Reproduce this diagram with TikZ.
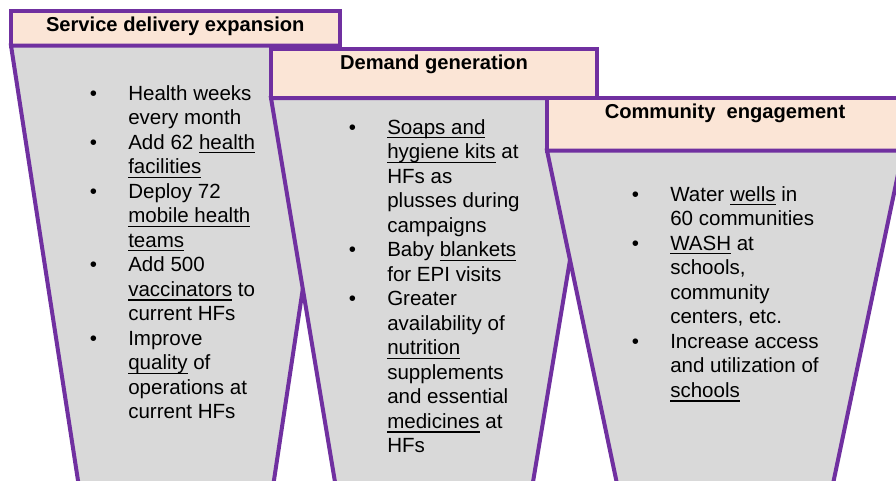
\documentclass[tikz,border=0pt]{standalone}
\usepackage{fontspec}
\setmainfont{Liberation Sans}
\definecolor{fpurple}{HTML}{7030A0}
\definecolor{fpeach}{HTML}{FBE5D6}
\definecolor{fgrey}{HTML}{D9D9D9}
\newcommand{\bulletlist}[1]{\begin{tabular}[t]{@{}l@{\hspace{23.5pt}}l@{}}#1\end{tabular}}
\newcommand{\uword}[1]{\setbox0\hbox{#1}\rlap{\rule[-3.2pt]{\wd0}{0.9pt}}\box0\relax}
\tikzset{
  hdbox/.style={draw=fpurple,line width=3pt,fill=fpeach},
  funnel/.style={draw=fpurple,line width=3pt,fill=fgrey,line join=miter},
  hdtext/.style={anchor=base,inner sep=0pt,font=\bfseries\fontsize{15.1}{18}\selectfont},
  listtext/.style={anchor=base west,inner sep=0pt,font=\fontsize{15.4}{18.4}\selectfont}
}
\begin{document}
\begin{tikzpicture}[x=0.75pt,y=-0.75pt]
      \useasboundingbox (0,0) rectangle (896,480);
      \clip (0,0) rectangle (896,480);
      % service delivery
      \draw[hdbox] (11,11) rectangle (339.5,45.5);
      \draw[funnel] (11,45.5) -- (339.5,45.5) -- (271,500) -- (81,500) -- cycle;
      \node[hdtext] (sdhead) at (175.3,31) {Service delivery expansion};
      \node[listtext] (sdlist) at (89.5,100) {\bulletlist{
        • & Health weeks\\
          & every month\\
        • & Add 62 \uword{health}\\
          & \uword{facilities}\\
        • & Deploy 72\\
          & \uword{mobile health}\\
          & \uword{teams}\\
        • & Add 500\\
          & \uword{vaccinators} to\\
          & current HFs\\
        • & Improve\\
          & \uword{quality} of\\
          & operations at\\
          & current HFs}};
      % demand generation
      \draw[hdbox] (271,48.5) rectangle (597,98);
      \draw[funnel] (271,98) -- (597,98) -- (530,500) -- (338,500) -- cycle;
      \node[hdtext] (dghead) at (434,69) {Demand generation};
      \node[listtext] (dglist) at (348.5,134) {\bulletlist{
        • & \uword{Soaps and}\\
          & \uword{hygiene kits} at\\
          & HFs as\\
          & plusses during\\
          & campaigns\\
        • & Baby \uword{blankets}\\
          & for EPI visits\\
        • & Greater\\
          & availability of\\
          & \uword{nutrition}\\
          & supplements\\
          & and essential\\
          & \uword{medicines} at\\
          & HFs}};
      % community engagement
      \draw[hdbox] (547,97.5) rectangle (903,150.5);
      \draw[funnel] (547,150.5) -- (903,150.5) -- (829.6,500) -- (620.4,500) -- cycle;
      \node[hdtext] (cehead) at (725,118) {Community~ engagement};
      \node[listtext] (celist) at (631.5,201) {\bulletlist{
        • & Water \uword{wells} in\\
          & 60 communities\\
        • & \uword{WASH} at\\
          & schools,\\
          & community\\
          & centers, etc.\\
        • & Increase access\\
          & and utilization of\\
          & \uword{schools}}};
\end{tikzpicture}
\end{document}
